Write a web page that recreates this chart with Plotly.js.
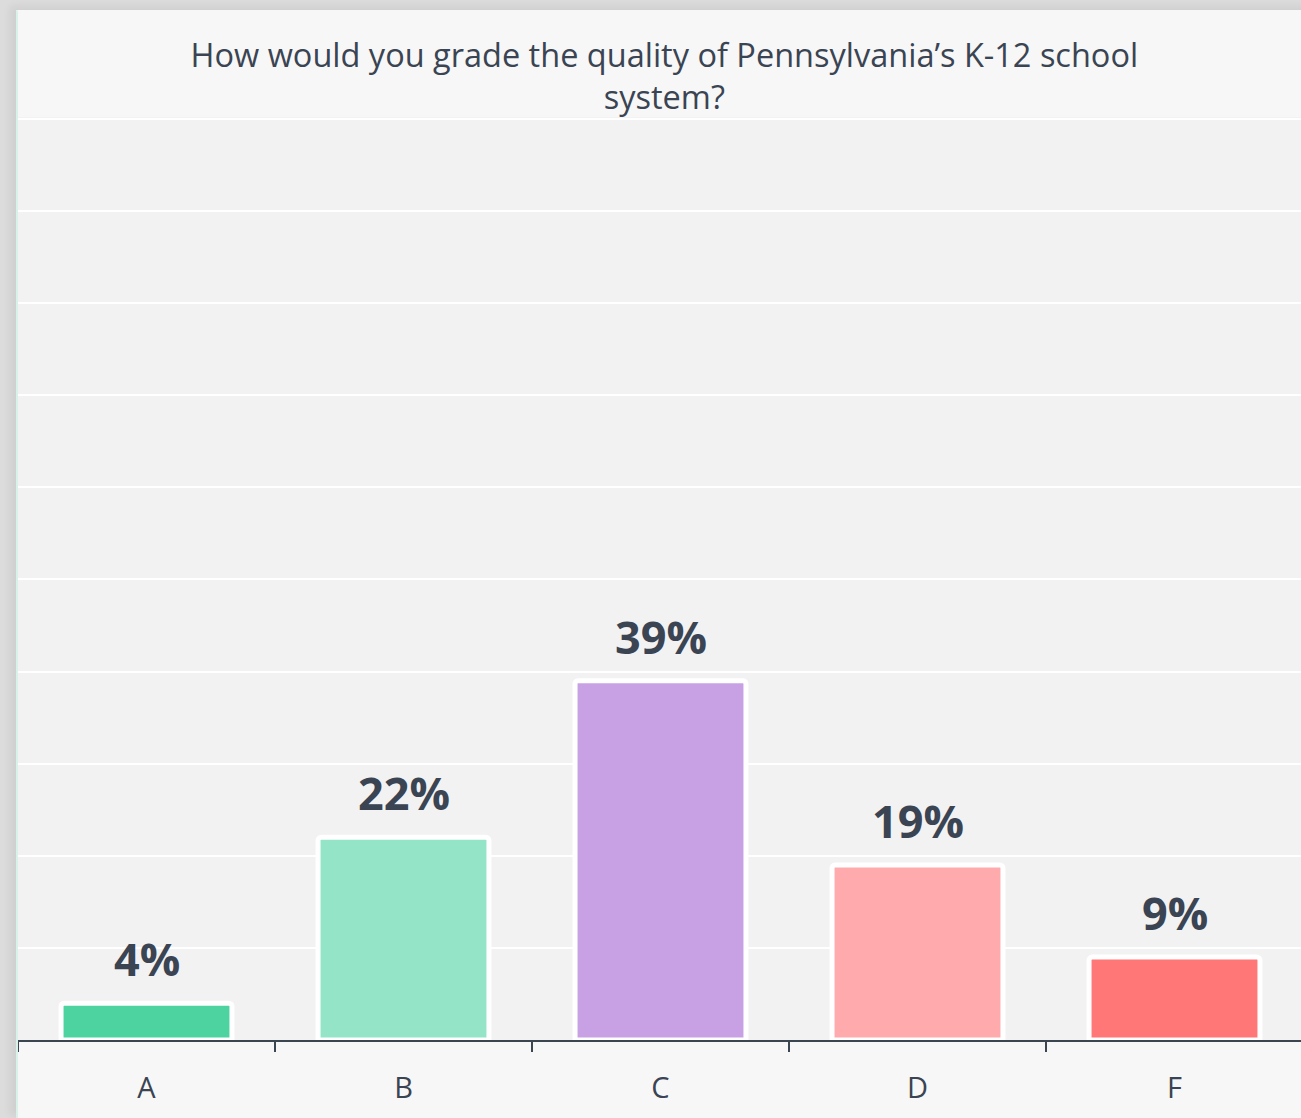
<!DOCTYPE html>
<html>
<head>
<meta charset="utf-8">
<script src="https://cdn.plot.ly/plotly-3.0.1.min.js"></script>
<style>
  html, body { margin: 0; padding: 0; width: 1301px; height: 1118px; overflow: hidden; background: #dcdcdc; }
  #frame { position: absolute; left: 16px; top: 10px; width: 1300px; height: 1108px;
           border-left: 2px solid #d8f2ea; border-top: 2px solid #e4f4ee; background: #f7f7f7;
           box-shadow: -6px -4px 8px rgba(0,0,0,0.06); }
  #chart { position: absolute; left: 0px; top: -2px; }
</style>
</head>
<body>
<div id="frame"><div id="chart"></div></div>
<script>
const categories = ["A", "B", "C", "D", "F"];
const values = [4, 22, 39, 19, 9];
const valueLabels = ["4%", "22%", "39%", "19%", "9%"];
const barColors = ["#4cd3a0", "#94e4c8", "#c8a0e4", "#ffabad", "#ff7777"];
const chartTitle = "How would you grade the quality of Pennsylvania’s K-12 school<br>system?";

const textColor = "#3a4452";

const trace = {
  type: "bar",
  x: categories,
  y: values,
  width: 0.665,
  marker: { color: barColors, line: { color: "#ffffff", width: 5 }, cornerradius: 3 },
  hoverinfo: "none"
};

const annotations = categories.map((c, i) => ({
  x: c, y: values[i], xref: "x", yref: "y",
  text: valueLabels[i], showarrow: false,
  yanchor: "bottom", yshift: 12,
  font: { family: "Open Sans, sans-serif", size: 45, color: textColor, weight: "bold" }
}));

const layout = {
  width: 1285, height: 1108,
  margin: { l: 0, r: 0, t: 107, b: 78 },
  paper_bgcolor: "#f7f7f7",
  plot_bgcolor: "#f2f2f2",
  showlegend: false,
  title: {
    text: chartTitle,
    font: { family: "Open Sans, sans-serif", size: 32.5, color: textColor },
    x: 0.503, xanchor: "center",
    y: 1 - 57 / 1108, yanchor: "top", yref: "container"
  },
  xaxis: {
    type: "category",
    showline: true, linecolor: "#3c4650", linewidth: 1.5,
    ticks: "outside", tickson: "boundaries", ticklen: 10, tickcolor: "#3c4650", tickwidth: 1.5,
    ticklabelstandoff: 22,
    tickfont: { family: "Open Sans, sans-serif", size: 29, color: textColor },
    showgrid: false, zeroline: false, fixedrange: true
  },
  yaxis: {
    range: [0, 100.2], dtick: 10, showticklabels: false,
    showgrid: true, gridcolor: "#ffffff", gridwidth: 2,
    zeroline: false, showline: false, ticks: "", fixedrange: true
  },
  annotations: annotations
};

Plotly.newPlot("chart", [trace], layout, { displayModeBar: false, staticPlot: true });
</script>
</body>
</html>
